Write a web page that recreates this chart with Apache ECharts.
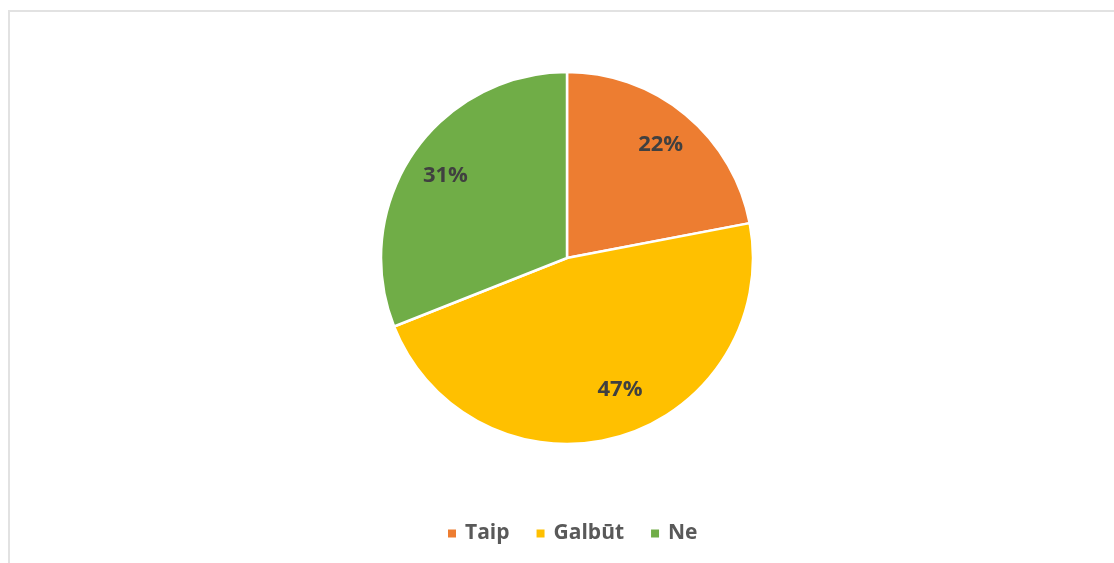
<!DOCTYPE html>
<html>
<head>
<meta charset="utf-8">
<script src="https://cdn.jsdelivr.net/npm/echarts@6/dist/echarts.min.js"></script>
<style>
  html, body { margin: 0; padding: 0; background: #fff; }
  #wrap { position: relative; width: 1114px; height: 563px; overflow: hidden; }
  #frame { position: absolute; left: 8px; top: 10px; width: 1120px; height: 600px; border: 2px solid #e2e2e2; box-sizing: border-box; }
  #chart { position: absolute; left: 0; top: 0; width: 1114px; height: 563px; }
</style>
</head>
<body>
<div id="wrap">
  <div id="frame"></div>
  <div id="chart"></div>
</div>
<script>
// atsakymai
var categories = ["Taip", "Galbūt", "Ne"];
var values = [22, 47, 31];
var colors = ["#ED7D31", "#FFC000", "#70AD47"];

var pieData = categories.map(function (name, i) {
  return { name: name, value: values[i], itemStyle: { color: colors[i] } };
});

// etikeciu sluoksnis, 47% siek tiek pastumta kaip originale
var labelData = categories.map(function (name, i) {
  var item = { name: name, value: values[i], itemStyle: { color: "transparent" } };
  if (i === 1) {
    item.label = { offset: [12, -9] };
  }
  return item;
});

var myChart = echarts.init(document.getElementById("chart"));
var option = {
  animation: false,
  legend: {
    data: categories,
    left: 441,
    top: 518,
    icon: "rect",
    itemWidth: 10,
    itemHeight: 10,
    itemGap: 25,
    textStyle: {
      fontFamily: "Open Sans",
      fontWeight: "bold",
      fontSize: 21,
      color: "#595959",
      padding: [0, 0, 0, 3]
    }
  },
  series: [
    {
      // pati diagrama
      name: "Atsakymai",
      type: "pie",
      center: [567, 258],
      radius: [0, 186],
      startAngle: 90,
      clockwise: true,
      label: { show: false },
      labelLine: { show: false },
      itemStyle: { borderColor: "#fff", borderWidth: 2.5 },
      emphasis: { disabled: true },
      data: pieData
    },
    {
      // tik etiketes (kad butu arciau krasto)
      name: "Etiketes",
      type: "pie",
      center: [567, 258],
      radius: [102, 186],
      startAngle: 90,
      clockwise: true,
      silent: true,
      itemStyle: { color: "transparent" },
      label: {
        show: true,
        position: "inside",
        formatter: "{d}%",
        fontFamily: "Open Sans",
        fontWeight: "bold",
        fontSize: 22,
        color: "#404040"
      },
      labelLine: { show: false },
      data: labelData
    }
  ]
};
myChart.setOption(option);
</script>
</body>
</html>
